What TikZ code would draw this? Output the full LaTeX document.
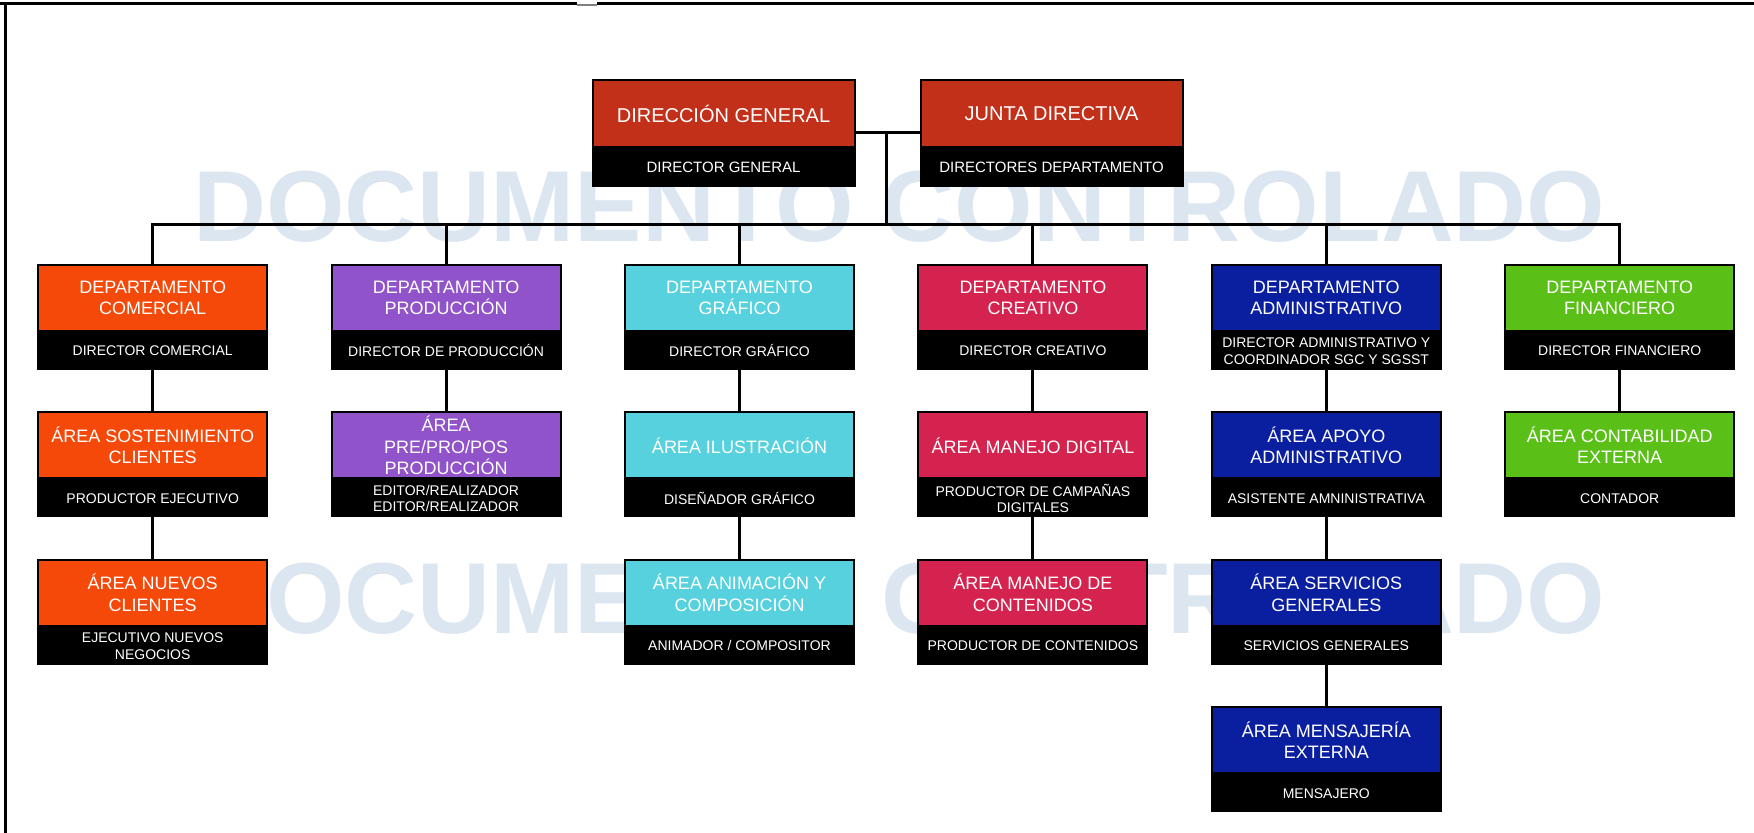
\documentclass[tikz,border=0pt]{standalone}
\usepackage{fontspec}
\setmainfont{Liberation Sans}
\usetikzlibrary{positioning}

\definecolor{rojodir}{HTML}{C3301A}
\definecolor{naranja}{HTML}{F54909}
\definecolor{morado}{HTML}{9153C9}
\definecolor{cian}{HTML}{56D1DD}
\definecolor{carmin}{HTML}{D52350}
\definecolor{azul}{HTML}{0A1EA0}
\definecolor{verde}{HTML}{5AC018}
\definecolor{marca}{HTML}{DCE6F1}

\tikzset{
  area/.style={draw=black, line width=1pt, fill=#1, text=white, align=center,
    minimum width=114.5pt, minimum height=33pt, inner sep=0.5pt,
    font=\fontsize{9}{10.6}\selectfont},
  cargo/.style={draw=black, line width=1pt, fill=black, text=white, align=center,
    minimum width=114.5pt, minimum height=18pt, inner sep=0.5pt,
    font=\fontsize{7}{8.4}\selectfont, below=0pt of #1},
  dir/.style={area=rojodir, minimum width=131pt, minimum height=33.5pt,
    font=\fontsize{10}{12}\selectfont},
  dircargo/.style={cargo=#1, minimum width=131pt, minimum height=18.25pt,
    font=\fontsize{7.5}{9}\selectfont},
  marcaagua/.style={text=marca, inner sep=0pt,
    font=\fontsize{50.5}{50}\selectfont\bfseries},
  link/.style={line width=1.5pt, black},
  marco/.style={line width=1.5pt, black},
}

\begin{document}
\begin{tikzpicture}[x=0.5pt,y=-0.5pt]
   \useasboundingbox (0,0) rectangle (1754,833);
   % marca de agua
   \node[marcaagua, anchor=base] (wm1) at (899.5,241.6) {DOCUMENTO CONTROLADO};
   \node[marcaagua, anchor=base] (wm2) at (899.5,633) {DOCUMENTO CONTROLADO};
   % marco
   \draw[marco] (0,4) -- (577,4);
   \draw[gray, line width=0.8pt] (577,5) -- (597,5);
   \draw[marco] (597,4) -- (1754,4);
   \draw[marco] (5,4) -- (5,833);

   % direccion
   \node[dir, anchor=north] (dg) at (723.5,79.5) {DIRECCIÓN GENERAL};
   \node[dircargo=dg] (dg-r) {DIRECTOR GENERAL};
   \node[dir, right=32pt of dg] (jd) {JUNTA DIRECTIVA};
   \node[dircargo=jd] (jd-r) {DIRECTORES DEPARTAMENTO};

   % departamentos
   \node[area=naranja, anchor=north] (com) at (152.7,264) {DEPARTAMENTO\\COMERCIAL};
   \node[cargo=com] (com-r) {DIRECTOR COMERCIAL};
   \node[area=morado, right=31.2pt of com] (pro) {DEPARTAMENTO\\PRODUCCIÓN};
   \node[cargo=pro] (pro-r) {DIRECTOR DE PRODUCCIÓN};
   \node[area=cian, right=31.2pt of pro] (gra) {DEPARTAMENTO\\GRÁFICO};
   \node[cargo=gra] (gra-r) {DIRECTOR GRÁFICO};
   \node[area=carmin, right=31.2pt of gra] (cre) {DEPARTAMENTO\\CREATIVO};
   \node[cargo=cre] (cre-r) {DIRECTOR CREATIVO};
   \node[area=azul, right=31.2pt of cre] (adm) {DEPARTAMENTO\\ADMINISTRATIVO};
   \node[cargo=adm] (adm-r) {DIRECTOR ADMINISTRATIVO Y\\COORDINADOR SGC Y SGSST};
   \node[area=verde, right=31.2pt of adm] (fin) {DEPARTAMENTO\\FINANCIERO};
   \node[cargo=fin] (fin-r) {DIRECTOR FINANCIERO};

   % areas
   \node[area=naranja, below=20.7pt of com-r] (sos) {ÁREA SOSTENIMIENTO\\CLIENTES};
   \node[cargo=sos] (sos-r) {PRODUCTOR EJECUTIVO};
   \node[area=naranja, below=20.7pt of sos-r] (nue) {ÁREA NUEVOS\\CLIENTES};
   \node[cargo=nue] (nue-r) {EJECUTIVO NUEVOS\\NEGOCIOS};

   \node[area=morado, below=20.7pt of pro-r] (pre) {ÁREA\\PRE/PRO/POS\\PRODUCCIÓN};
   \node[cargo=pre] (pre-r) {EDITOR/REALIZADOR\\EDITOR/REALIZADOR};

   \node[area=cian, below=20.7pt of gra-r] (ilu) {ÁREA ILUSTRACIÓN};
   \node[cargo=ilu] (ilu-r) {DISEÑADOR GRÁFICO};
   \node[area=cian, below=20.7pt of ilu-r] (ani) {ÁREA ANIMACIÓN Y\\COMPOSICIÓN};
   \node[cargo=ani] (ani-r) {ANIMADOR / COMPOSITOR};

   \node[area=carmin, below=20.7pt of cre-r] (dig) {ÁREA MANEJO DIGITAL};
   \node[cargo=dig] (dig-r) {PRODUCTOR DE CAMPAÑAS\\DIGITALES};
   \node[area=carmin, below=20.7pt of dig-r] (con) {ÁREA MANEJO DE\\CONTENIDOS};
   \node[cargo=con] (con-r) {PRODUCTOR DE CONTENIDOS};

   \node[area=azul, below=20.7pt of adm-r] (apo) {ÁREA APOYO\\ADMINISTRATIVO};
   \node[cargo=apo] (apo-r) {ASISTENTE AMNINISTRATIVA};
   \node[area=azul, below=20.7pt of apo-r] (ser) {ÁREA SERVICIOS\\GENERALES};
   \node[cargo=ser] (ser-r) {SERVICIOS GENERALES};
   \node[area=azul, below=20.7pt of ser-r] (men) {ÁREA MENSAJERÍA\\EXTERNA};
   \node[cargo=men] (men-r) {MENSAJERO};

   \node[area=verde, below=20.7pt of fin-r] (cont) {ÁREA CONTABILIDAD\\EXTERNA};
   \node[cargo=cont] (cont-r) {CONTADOR};

   % conectores
   \coordinate (hub) at (886,131.5);
   \coordinate (bus) at (886,225);
   \draw[link] ([yshift=-9.5pt]dg.east) -- ([yshift=-9.5pt]jd.west);
   \draw[link] (hub) -- (bus);
   \draw[link] (com.north) -- (com.north |- bus) -- (fin.north |- bus) -- (fin.north);
   \foreach \d in {pro,gra,cre,adm}
      \draw[link] (\d.north |- bus) -- (\d.north);
   \foreach \a/\b in {com-r/sos,sos-r/nue,pro-r/pre,gra-r/ilu,ilu-r/ani,
                      cre-r/dig,dig-r/con,adm-r/apo,apo-r/ser,ser-r/men,fin-r/cont}
      \draw[link] (\a) -- (\b);
\end{tikzpicture}
\end{document}
